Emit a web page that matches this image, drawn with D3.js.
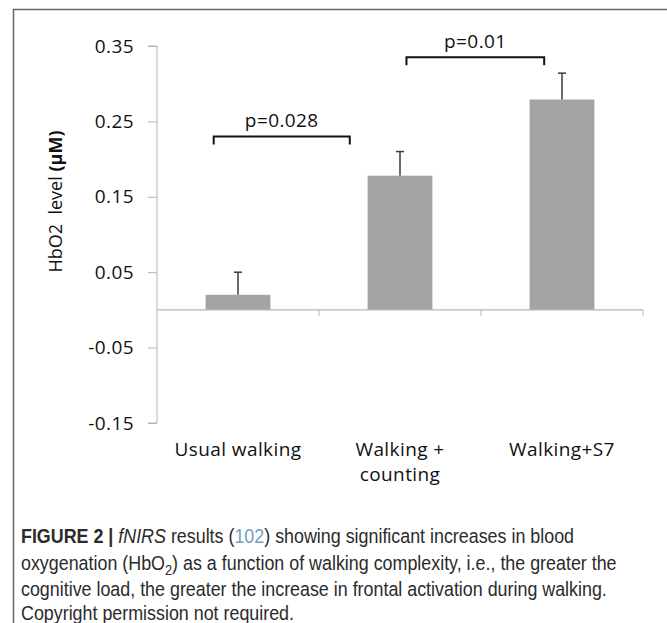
<!DOCTYPE html>
<html>
<head>
<meta charset="utf-8">
<script src="https://cdn.jsdelivr.net/npm/d3@7"></script>
<style>
  html, body { margin: 0; padding: 0; background: #fff; }
  svg text { font-family: 'Open Sans', sans-serif; }
</style>
</head>
<body>
<svg id="chart" width="667" height="623"></svg>
<script>
// chart data
const categories = [['Usual walking'], ['Walking +', 'counting'], ['Walking+S7']];
const means = [0.02, 0.178, 0.279];
const errors = [0.03, 0.032, 0.035];
const yTicks = [-0.15, -0.05, 0.05, 0.15, 0.25, 0.35];
// significance brackets: position along category axis (0..3) and height
const compLabels = ['p=0.028', 'p=0.01'];
const compFrom = [0.35, 1.54];
const compTo = [1.19, 2.39];
const compLevel = [0.23, 0.335];
const yLabel = 'HbO2  level ';
const yLabelUnit = '(\u00b5M)';

const svg = d3.select('#chart');

// frame around figure
svg.append('path')
    .attr('d', 'M13.5,623 L13.5,9.5 L667,9.5')
    .attr('fill', 'none')
    .attr('stroke', '#666')
    .attr('stroke-width', 1.5);

const y = d3.scaleLinear()
    .domain([-0.15, 0.35])
    .range([423, 46]);

const x = d3.scaleBand()
    .domain(d3.range(categories.length))
    .range([157, 643])
    .paddingInner(0.6)
    .paddingOuter(0.3);

// continuous position along the category axis for the brackets
const xPos = d3.scaleLinear()
    .domain([0, categories.length])
    .range(x.range());

const g = svg.append('g');

// y axis
const yAxis = g.append('g')
    .attr('transform', `translate(${x.range()[0]},0)`)
    .call(d3.axisLeft(y).tickValues(yTicks).tickSize(9).tickPadding(14).tickFormat(d => d.toFixed(2)));
yAxis.select('.domain').attr('stroke', '#b5b5b5').attr('d', `M-9,${y(0.35)}H0V${y(-0.15)}H-9`);
yAxis.selectAll('.tick line').attr('stroke', '#b5b5b5');
yAxis.selectAll('.tick text')
    .attr('fill', '#111')
    .style('font-size', '19px')
    .style('letter-spacing', '0.4px');

// bars
g.append('g').selectAll('rect')
    .data(means)
    .enter()
    .append('rect')
    .attr('x', (d, i) => x(i))
    .attr('y', d => y(d))
    .attr('width', x.bandwidth())
    .attr('height', d => y(0) - y(d))
    .attr('fill', '#a3a3a3');

// x axis at zero
const xAxis = g.append('g')
    .attr('transform', `translate(0,${y(0)})`);
xAxis.append('line')
    .attr('x1', x.range()[0])
    .attr('x2', x.range()[1])
    .attr('stroke', '#b5b5b5')
    .attr('stroke-width', 1.2);
xAxis.selectAll('line.tick')
    .data(d3.range(1, categories.length + 1))
    .enter()
    .append('line')
    .attr('class', 'tick')
    .attr('x1', d => xPos(d))
    .attr('x2', d => xPos(d))
    .attr('y1', 0)
    .attr('y2', 6)
    .attr('stroke', '#b5b5b5');

// error bars (upper only)
const err = g.append('g');
means.forEach((m, i) => {
    const cx = x(i) + x.bandwidth() / 2;
    err.append('line')
        .attr('x1', cx).attr('x2', cx)
        .attr('y1', y(m)).attr('y2', y(m + errors[i]))
        .attr('stroke', '#3a3a3a').attr('stroke-width', 1.5);
    err.append('line')
        .attr('x1', cx - 4).attr('x2', cx + 4)
        .attr('y1', y(m + errors[i])).attr('y2', y(m + errors[i]))
        .attr('stroke', '#3a3a3a').attr('stroke-width', 1.5);
});

// category labels
const labels = g.append('g').selectAll('text')
    .data(categories)
    .enter()
    .append('text')
    .attr('x', (d, i) => x(i) + x.bandwidth() / 2)
    .attr('y', 456)
    .attr('text-anchor', 'middle')
    .attr('fill', '#111')
    .style('font-size', '19px')
    .style('letter-spacing', '0.4px');
labels.selectAll('tspan')
    .data(d => d)
    .enter()
    .append('tspan')
    .attr('x', function () { return d3.select(this.parentNode).attr('x'); })
    .attr('dy', (d, i) => i === 0 ? 0 : 25)
    .text(d => d);

// significance brackets
const comps = g.append('g');
compLabels.forEach((lab, i) => {
    const x1 = xPos(compFrom[i]), x2 = xPos(compTo[i]), yy = y(compLevel[i]);
    comps.append('path')
        .attr('d', `M${x1},${yy + 8}V${yy}H${x2}V${yy + 8}`)
        .attr('fill', 'none')
        .attr('stroke', '#111')
        .attr('stroke-width', 2);
    comps.append('text')
        .attr('x', (x1 + x2) / 2)
        .attr('y', yy - 9)
        .attr('text-anchor', 'middle')
        .attr('fill', '#111')
        .style('font-size', '19px')
        .style('letter-spacing', '0.4px')
        .text(lab);
});

// y axis title
const yt = g.append('text')
    .attr('transform', `translate(62,${(y(0.35) + y(-0.15)) / 2 - 33}) rotate(-90)`)
    .attr('text-anchor', 'middle')
    .attr('fill', '#111')
    .style('white-space', 'pre')
    .style('font-size', '18px');
yt.append('tspan').text(yLabel);
yt.append('tspan').text(yLabelUnit).style('font-weight', 'bold');

// caption, condensed horizontally
const cap = svg.append('text')
    .attr('transform', 'translate(21,0) scale(0.917,1)')
    .attr('fill', '#2b2b2b')
    .style('font-family', "'Liberation Sans', Arial, sans-serif")
    .style('font-size', '19.5px');
const line1 = cap.append('tspan').attr('x', 0).attr('y', 543);
line1.append('tspan').text('FIGURE 2 | ').style('font-weight', 'bold');
line1.append('tspan').text('fNIRS').style('font-style', 'italic');
line1.append('tspan').text(' results (');
line1.append('tspan').text('102').attr('fill', '#7a9cc0');
line1.append('tspan').text(') showing significant increases in blood');
const line2 = cap.append('tspan').attr('x', 0).attr('y', 570);
line2.append('tspan').text('oxygenation (HbO');
line2.append('tspan').text('2').attr('dy', 5).style('font-size', '14px');
line2.append('tspan').text(') as a function of walking complexity, i.e., the greater the').attr('dy', -5);
cap.append('tspan').attr('x', 0).attr('y', 596)
    .text('cognitive load, the greater the increase in frontal activation during walking.');
cap.append('tspan').attr('x', 0).attr('y', 620)
    .text('Copyright permission not required.');
</script>
</body>
</html>
